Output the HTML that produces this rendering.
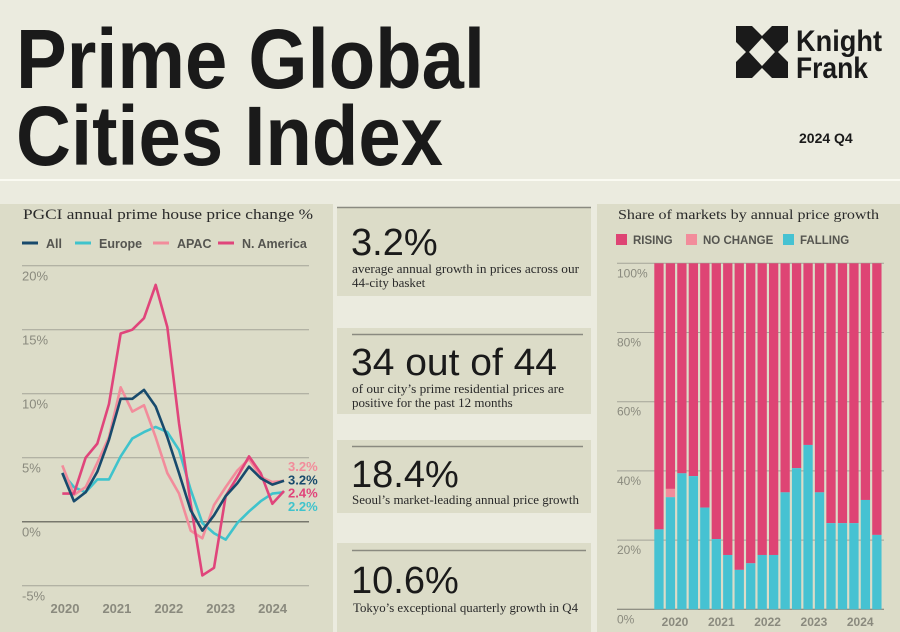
<!DOCTYPE html>
<html><head><meta charset="utf-8"><style>
body{margin:0;background:#ebebdf;width:900px;height:632px;overflow:hidden;font-family:"Liberation Sans",sans-serif}
svg{display:block}
</style></head><body>
<svg width="900" height="632" xmlns="http://www.w3.org/2000/svg">
<rect x="0" y="0" width="900" height="632" fill="#ebebdf"/>
<text x="16" y="88" font-size="84" font-weight="bold" fill="#1a1a1a" textLength="469" lengthAdjust="spacingAndGlyphs">Prime Global</text>
<text x="16" y="165" font-size="84" font-weight="bold" fill="#1a1a1a" textLength="427" lengthAdjust="spacingAndGlyphs">Cities Index</text>
<g>
<rect x="736" y="26" width="52" height="52" fill="#1a1a1a"/>
<polygon points="762,38 775,52 762,66 749,52" fill="#ebebdf"/>
<polygon points="752,26 772,26 762,36" fill="#ebebdf"/>
<polygon points="752,78 772,78 762,68" fill="#ebebdf"/>
<polygon points="736,42 736,62 746,52" fill="#ebebdf"/>
<polygon points="788,42 788,62 778,52" fill="#ebebdf"/>
<text x="796" y="51" font-size="30" font-weight="bold" fill="#1a1a1a" textLength="86" lengthAdjust="spacingAndGlyphs">Knight</text>
<text x="796" y="78" font-size="30" font-weight="bold" fill="#1a1a1a" textLength="72" lengthAdjust="spacingAndGlyphs">Frank</text>
</g>
<text x="799" y="143" font-size="14" font-weight="bold" fill="#1a1a1a">2024 Q4</text>
<line x1="0" y1="180" x2="900" y2="180" stroke="#fafaf2" stroke-width="2"/>

<rect x="0" y="204" width="333" height="428" fill="#dcdcc8"/>
<rect x="597" y="204" width="303" height="428" fill="#dcdcc8"/>

<g>
<rect x="337" y="207" width="254" height="89" fill="#dcdcc8"/>
<line x1="337" y1="207.5" x2="591" y2="207.5" stroke="#8a8a80" stroke-width="1.5"/>
<text x="351" y="255" font-size="38" fill="#1a1a1a">3.2%</text>
<text x="352" y="273" font-size="13" font-family="Liberation Serif,serif" fill="#2a2a2a" textLength="227" lengthAdjust="spacingAndGlyphs">average annual growth in prices across our</text>
<text x="352" y="287" font-size="13" font-family="Liberation Serif,serif" fill="#2a2a2a">44-city basket</text>
</g>
<g>
<rect x="337" y="328" width="254" height="86" fill="#dcdcc8"/>
<line x1="352" y1="334.5" x2="583" y2="334.5" stroke="#8a8a80" stroke-width="1.5"/>
<text x="351" y="375" font-size="38" fill="#1a1a1a" textLength="206" lengthAdjust="spacingAndGlyphs">34 out of 44</text>
<text x="352" y="393" font-size="13" font-family="Liberation Serif,serif" fill="#2a2a2a" textLength="212" lengthAdjust="spacingAndGlyphs">of our city’s prime residential prices are</text>
<text x="352" y="407" font-size="13" font-family="Liberation Serif,serif" fill="#2a2a2a">positive for the past 12 months</text>
</g>
<g>
<rect x="337" y="440" width="254" height="73" fill="#dcdcc8"/>
<line x1="352" y1="446.5" x2="583" y2="446.5" stroke="#8a8a80" stroke-width="1.5"/>
<text x="351" y="487" font-size="38" fill="#1a1a1a">18.4%</text>
<text x="352" y="504" font-size="13" font-family="Liberation Serif,serif" fill="#2a2a2a" textLength="227" lengthAdjust="spacingAndGlyphs">Seoul’s market-leading annual price growth</text>
</g>
<g>
<rect x="337" y="543" width="254" height="89" fill="#dcdcc8"/>
<line x1="352" y1="550.5" x2="586" y2="550.5" stroke="#8a8a80" stroke-width="1.5"/>
<text x="351" y="593" font-size="38" fill="#1a1a1a">10.6%</text>
<text x="353" y="612" font-size="13" font-family="Liberation Serif,serif" fill="#2a2a2a" textLength="225" lengthAdjust="spacingAndGlyphs">Tokyo’s exceptional quarterly growth in Q4</text>
</g>

<text x="23" y="219" font-size="15" font-family="Liberation Serif,serif" fill="#2a2a2a" textLength="290" lengthAdjust="spacingAndGlyphs">PGCI annual prime house price change %</text>
<g id="lineChart"></g>

<text x="618" y="219" font-size="14" font-family="Liberation Serif,serif" fill="#2a2a2a" textLength="261" lengthAdjust="spacingAndGlyphs">Share of markets by annual price growth</text>
<g id="barChart"></g>
</svg>
<script>
const NS="http://www.w3.org/2000/svg";
// line chart data (quarterly 2020Q1..2024Q4)
const lineSeriesNames=["All","Europe","APAC","N. America"];
const allValues=[3.8,1.6,2.3,3.9,6.4,9.6,9.6,10.3,9.0,6.6,3.8,0.9,-0.7,0.5,2.0,3.0,4.3,3.4,2.9,3.2];
const europeValues=[3.8,2.7,2.3,3.3,3.3,5.1,6.5,7.0,7.4,7.0,5.6,2.5,-0.1,-0.9,-1.4,-0.1,0.8,1.6,2.2,2.3];
const apacValues=[4.4,2.1,2.7,4.6,6.6,10.5,8.6,9.1,6.6,3.8,2.2,-0.7,-1.3,1.3,2.7,4.0,4.9,3.5,3.1,3.2];
const naValues=[2.2,2.2,5.0,6.1,9.2,14.7,15.0,15.9,18.5,15.2,7.7,1.4,-4.2,-3.6,2.0,3.5,5.1,3.8,1.4,2.4];
const lineYTicks=[-5,0,5,10,15,20];
const lineYTickLabels=["-5%","0%","5%","10%","15%","20%"];
const lineYears=[2020,2021,2022,2023,2024];
const endLabels=["3.2%","3.2%","2.4%","2.2%"];
// bar chart data
const barYears=[2020,2021,2022,2023,2024];
const fallingShare=[23.1,32.4,39.3,38.5,29.4,20.3,15.7,11.4,13.3,15.7,15.7,33.8,40.8,47.5,33.8,24.9,24.9,24.9,31.6,21.5];
const noChangeShare=[0,2.4,0,0,0,0,0,0,0,0,0,0,0,0,0,0,0,0,0,0];
const barYTicks=[0,20,40,60,80,100];
const barYTickLabels=["0%","20%","40%","60%","80%","100%"];

function mk(tag,attrs,parent){const e=document.createElementNS(NS,tag);for(const k in attrs)e.setAttribute(k,attrs[k]);parent.appendChild(e);return e;}

(function(){
const g=document.getElementById("lineChart");
const xq=i=>62.3+i*11.67;
const y=v=>521.7-v*12.8;
const xYear=yr=>65+(yr-2020)*51.9;
lineYTicks.forEach((t,i)=>{
 const l=mk("line",{x1:22,x2:309,y1:y(t),y2:y(t),stroke:t===0?"#77776d":"#a3a397","stroke-width":t===0?1.5:1},g);
 
 
 const tx=mk("text",{x:22,y:y(t)+15,"font-size":13,fill:"#8a8a7e"},g);
 tx.textContent=lineYTickLabels[i];
 
 
});
lineYears.forEach(yr=>{
 const tx=mk("text",{x:xYear(yr),y:613,"font-size":13,"font-weight":"bold",fill:"#8a8a7e","text-anchor":"middle"},g);
 tx.textContent=yr;
 
 
});
const series=[[europeValues,"#3fc3cc"],[apacValues,"#f28c9b"],[naValues,"#e0457b"],[allValues,"#184a6c"]];
series.forEach(([vals,col])=>{
 const p=mk("polyline",{points:vals.map((v,i)=>xq(i)+","+y(v)).join(" "),fill:"none",stroke:col,"stroke-width":2.6,"stroke-linejoin":"round"},g);
 
 
});
const endCols=["#f28c9b","#184a6c","#e0457b","#3fc3cc"];
endLabels.forEach((s,i)=>{
 const tx=mk("text",{x:288,y:471+i*13.3,"font-size":13,"font-weight":"bold",fill:endCols[i]},g);
 tx.textContent=s;
 
 
});
const legCols=["#184a6c","#3fc3cc","#f28c9b","#e0457b"];
const legX=[22,75,153,218];
lineSeriesNames.forEach((n,i)=>{
 const l=mk("line",{x1:legX[i],x2:legX[i]+16,y1:243,y2:243,stroke:legCols[i],"stroke-width":3},g);
 
 
 const tx=mk("text",{x:legX[i]+24,y:248,"font-size":12.5,"font-weight":"bold",fill:"#555550"},g);
 tx.textContent=n;
 
 
});
})();

(function(){
const g=document.getElementById("barChart");
const y=v=>609.3-v*3.46;
const xb=i=>654.3+i*11.47;
const bw=9.3;
const xYear=yr=>675+(yr-2020)*46.3;
barYTicks.forEach((t,i)=>{
 const l=mk("line",{x1:617,x2:884,y1:y(t),y2:y(t),stroke:t===0?"#77776d":"#a3a397","stroke-width":1},g);
 
 
 const tx=mk("text",{x:617,y:y(t)+14,"font-size":12,fill:"#8a8a7e"},g);
 tx.textContent=barYTickLabels[i];
 
 
});
fallingShare.forEach((f,i)=>{
 const nc=noChangeShare[i];
 const r=mk("rect",{x:xb(i),y:y(100),width:bw,height:y(f+nc)-y(100),fill:"#de4474"},g);
 
 
 if(nc>0){
  const n=mk("rect",{x:xb(i),y:y(f+nc),width:bw,height:y(f)-y(f+nc),fill:"#f28c9b"},g);
  
  
 }
 const b=mk("rect",{x:xb(i),y:y(f),width:bw,height:y(0)-y(f),fill:"#46c2d2"},g);
 
 
});
barYears.forEach(yr=>{
 const tx=mk("text",{x:xYear(yr),y:626,"font-size":12,"font-weight":"bold",fill:"#8a8a7e","text-anchor":"middle"},g);
 tx.textContent=yr;
 
 
});
const leg=[["RISING","#de4474",616],["NO CHANGE","#f28c9b",686],["FALLING","#46c2d2",783]];
leg.forEach(([n,c,x])=>{
 const r=mk("rect",{x:x,y:234,width:11,height:11,fill:c},g);
 
 
 const tx=mk("text",{x:x+17,y:244,"font-size":11.5,"font-weight":"bold",fill:"#555550"},g);
 tx.textContent=n;
 
 
});
})();
</script>
</body></html>
